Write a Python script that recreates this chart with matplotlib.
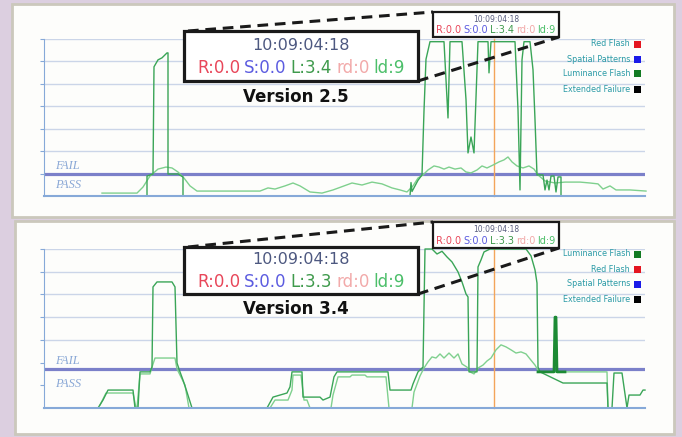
import numpy as np
import matplotlib
matplotlib.use('Agg')
import matplotlib.pyplot as plt
from matplotlib.patches import Rectangle
from matplotlib.lines import Line2D

W, H = 682, 437

# ---- Version 2.5 capture (frames, flash level) ----
top_hi_t = [103, 103, 109, 110, 114, 118, 123, 124, 124, 134, 139, 139,
            366, 367, 368, 374, 378, 380, 382, 386, 400, 404, 406, 418,
            422, 424, 427, 430, 434, 444, 445, 447, 471, 474, 476, 478,
            480, 486, 489, 491, 493, 499, 501, 503, 505, 507, 510, 512,
            514, 517, 517]
top_hi_v = [0, 0.89, 0.98, 5.76, 6.07, 6.16, 6.38, 6.38, 0.98, 0.98, 0.85, 0,
            0, 0.6, 0.2, 0.7, 0.94, 3.8, 6.1, 6.88, 6.88, 3.48, 6.88, 6.88,
            4.3, 1.92, 2.63, 1.92, 6.88, 6.88, 5.49, 6.88, 6.88, 3.84, 0.27, 6.07,
            6.88, 6.88, 5.63, 3.4, 0.94, 0.94, 0.27, 0.71, 0.27, 0.89, 0.89, 0.18,
            0.85, 0.85, 0]

top_lo_t = [58, 93, 99, 106, 114, 122, 128, 134, 140, 146, 153, 216, 224, 231,
            241, 249, 256, 266, 278, 289, 297, 308, 318, 328, 338, 348, 356, 363,
            369, 374, 379, 384, 390, 395, 400, 405, 411, 417, 422, 427, 433, 438,
            443, 449, 455, 460, 464, 468, 473, 479, 485, 490, 494, 501, 511, 521,
            536, 546, 554, 559, 566, 572, 586, 602]
top_lo_v = [0.13, 0.13, 0.4, 0.89, 1.2, 1.29, 1.25, 1.07, 0.8, 0.45, 0.22, 0.22, 0.36, 0.31,
            0.45, 0.58, 0.45, 0.18, 0.13, 0.27, 0.4, 0.58, 0.49, 0.62, 0.54, 0.36, 0.27, 0.18,
            0.45, 0.8, 0.94, 1.16, 1.34, 1.29, 1.2, 1.29, 1.2, 1.25, 1.07, 1.03, 1.16, 1.34,
            1.25, 1.38, 1.52, 1.61, 1.74, 1.52, 1.34, 1.25, 1.34, 1.2, 0.94, 0.67, 0.58, 0.62,
            0.62, 0.58, 0.54, 0.31, 0.45, 0.27, 0.27, 0.22]

# ---- Version 3.4 capture ----
bot_hi_t = [54, 59, 64, 89, 91, 94, 96, 106, 108, 109, 113, 128, 131, 133, 136, 139,
            143, 148, 223, 229, 243, 246, 248, 258, 259, 276, 279, 286, 290, 293,
            344, 346, 367, 369, 374, 379, 381, 388, 393, 398, 403, 408, 414, 418,
            422, 424, 425, 433, 434, 437, 440, 446, 482, 487, 491, 493, 494, 496,
            519, 563, 564, 568, 570, 578, 583, 585, 596, 599, 601]
bot_hi_v = [0, 0.35, 0.79, 0.79, 0, 0, 1.59, 1.59, 1.8, 5.33, 5.55, 5.55, 5.33, 1.98, 1.59, 1.23,
            0.7, 0, 0, 0.48, 0.66, 0.93, 1.59, 1.59, 0.48, 0.48, 0.35, 0.48, 1.37, 1.59,
            1.59, 0.79, 0.79, 1.06, 1.59, 1.8, 7.0, 7.0, 6.78, 6.9, 6.65, 6.43, 5.99, 5.55,
            5.02, 4.89, 1.59, 1.59, 6.21, 6.52, 6.87, 7.0, 7.0, 6.7, 6.08, 5.5, 1.8, 1.59,
            1.1, 1.1, 0, 0, 1.54, 1.54, 0, 0.57, 0.57, 0.79, 0.79]

bot_lo_t = [56, 62, 89, 92, 93, 96, 106, 108, 111, 131, 133, 136, 141, 145, 226, 231,
            244, 248, 249, 257, 260, 263, 266, 287, 289, 294, 306, 308, 321, 323, 342,
            345, 368, 370, 376, 380, 384, 388, 392, 396, 400, 405, 410, 414, 418, 423,
            426, 430, 434, 439, 443, 447, 452, 457, 462, 467, 472, 477, 482, 486, 491,
            495, 519, 563, 564]
bot_lo_v = [0.13, 0.66, 0.66, 0, 0, 1.5, 1.5, 1.8, 2.2, 2.2, 1.72, 1.45, 1.01, 0, 0, 0.35,
            0.35, 0.79, 1.45, 1.45, 0.35, 0.35, 0, 0, 0.57, 1.37, 1.37, 1.45, 1.45, 1.37, 1.37,
            0, 0, 0.7, 1.41, 1.76, 2.03, 2.25, 2.2, 2.38, 2.2, 2.42, 2.2, 2.38, 1.94, 1.8,
            1.59, 1.5, 1.76, 1.89, 2.07, 2.2, 2.56, 2.78, 2.69, 2.56, 2.42, 2.47, 2.38, 2.16, 1.89,
            1.59, 1.59, 1.59, 0]

bot_ext_t = [494, 510, 511, 512, 513, 521]
bot_ext_v = [1.59, 1.59, 4.0, 4.0, 1.59, 1.59]

cursor_frame = 450
fail_level = [1.0, 1.72]
grid_levels = [[1, 2, 3, 4, 5, 6, 7], [3, 4, 5, 6, 7]]
tick_levels = [1, 2, 3, 4, 5, 6, 7]

versions = ['Version 2.5', 'Version 3.4']
timecode = '10:09:04:18'
readouts = [['R:0.0', 'S:0.0', 'L:3.4', 'rd:0', 'ld:9'],
            ['R:0.0', 'S:0.0', 'L:3.3', 'rd:0', 'ld:9']]
readout_colors = ['#e8475a', '#5c5ce0', '#3f9a4c', '#f2aaaa', '#4cbf6a']

legend_names = [['Red Flash', 'Spatial Patterns', 'Luminance Flash', 'Extended Failure'],
                ['Luminance Flash', 'Red Flash', 'Spatial Patterns', 'Extended Failure']]
legend_colors = [['#e41520', '#1a1ae8', '#127a22', '#000000'],
                 ['#127a22', '#e41520', '#1a1ae8', '#000000']]

hi_col = '#3aa557'
lo_col = '#7fd08e'
axis_col = '#86a9d8'
grid_col = '#cbd5e8'


def fx(x):
    return x / W


def fy(y):
    return 1 - y / H


fig = plt.figure(figsize=(W / 100, H / 100), dpi=100)
fig.patch.set_facecolor('#dccfe0')

# panels (pixel boxes: x0, y0, x1, y1)
panels = [(12, 4, 674, 217), (15, 221, 674, 434)]
for x0, y0, x1, y1 in panels:
    fig.add_artist(Rectangle((fx(x0), fy(y1)), fx(x1 - x0), (y1 - y0) / H,
                             transform=fig.transFigure, facecolor='#fdfdfb',
                             edgecolor='#cbc8bc', lw=2, zorder=-5))

ax_boxes = [(44, 39, 645, 196), (44, 249, 645, 408)]
series = [((top_hi_t, top_hi_v), (top_lo_t, top_lo_v), None),
          ((bot_hi_t, bot_hi_v), (bot_lo_t, bot_lo_v), (bot_ext_t, bot_ext_v))]

r = fig.canvas.get_renderer()

for i, (x0, y0, x1, y1) in enumerate(ax_boxes):
    ax = fig.add_axes([fx(x0), fy(y1), (x1 - x0) / W, (y1 - y0) / H])
    ax.patch.set_visible(False)
    ax.set_xlim(0, 601)
    ax.set_ylim(0, 7)
    for lvl in grid_levels[i]:
        ax.axhline(lvl, color=grid_col, lw=1, zorder=0.5)
    ax.axhline(fail_level[i], color='#7b80c9', lw=2.3, zorder=1)
    ax.axvline(cursor_frame, color='#f3a55a', lw=1, zorder=1.5, clip_on=False)
    (ht, hv), (lt, lv), ext = series[i]
    ax.plot(lt, lv, color=lo_col, lw=1, zorder=2, clip_on=False)
    ax.plot(ht, hv, color=hi_col, lw=1, zorder=2.1, clip_on=False)
    if ext is not None:
        ax.plot(ext[0], ext[1], color='#1c8a34', lw=2, zorder=2.2)
    for s in ['top', 'right']:
        ax.spines[s].set_visible(False)
    ax.spines['left'].set_color(axis_col)
    ax.spines['bottom'].set_color(axis_col)
    ax.spines['bottom'].set_linewidth(1.5)
    ax.spines['left'].set_zorder(3)
    ax.spines['bottom'].set_zorder(3)
    ax.set_yticks(tick_levels)
    ax.set_xticks([])
    ax.tick_params(axis='y', length=3, color=axis_col, labelleft=False)

    # FAIL / PASS labels
    fail_y = y1 - fail_level[i] * (y1 - y0) / 7
    fig.text(fx(55), fy(fail_y - 8), 'FAIL', fontsize=9, style='italic',
             family='Liberation Serif', color='#8aa8d6', va='center')
    fig.text(fx(55), fy(y1 - 11 if i == 0 else y1 - 24), 'PASS', fontsize=9,
             style='italic', family='Liberation Serif', color='#8aa8d6', va='center')

# callouts
big = [(184, 31, 418, 81), (184, 247, 418, 294)]
small = [(433, 12, 559, 37), (433, 222, 559, 248)]
text_y = [(46, 68, 97, 19, 30), (260, 282, 309, 230, 241)]
legend_y = [[44, 59, 73, 89], [254, 269, 284, 299]]


def colored_line(cx, cy, parts, colors, size, gap):
    texts = [fig.text(0, fy(cy), s, color=c, fontsize=size, va='center', zorder=7)
             for s, c in zip(parts, colors)]
    widths = [t.get_window_extent(r).width for t in texts]
    x = cx - (sum(widths) + gap * (len(texts) - 1)) / 2
    for t, w in zip(texts, widths):
        t.set_x(fx(x))
        x += w + gap


for i in range(2):
    bx0, by0, bx1, by1 = big[i]
    sx0, sy0, sx1, sy1 = small[i]
    for (a0, b0, a1, b1), lw in [((bx0, by0, bx1, by1), 2.3), ((sx0, sy0, sx1, sy1), 1.6)]:
        fig.add_artist(Rectangle((fx(a0), fy(b1)), fx(a1 - a0), (b1 - b0) / H,
                                 transform=fig.transFigure, facecolor='white',
                                 edgecolor='#1a1a1a', lw=lw, zorder=5))
    for (p0, p1) in [((bx0 + 4, by0), (sx0, sy0)), ((bx1, by1), (sx1, sy1))]:
        fig.add_artist(Line2D([fx(p0[0]), fx(p1[0])], [fy(p0[1]), fy(p1[1])],
                              transform=fig.transFigure, color='#1a1a1a', lw=2.2,
                              linestyle=(0, (3.5, 2.2)), zorder=6))
    t1, t2, tv, s1, s2 = text_y[i]
    cx = (bx0 + bx1) / 2
    fig.text(fx(cx), fy(t1), timecode, fontsize=11.5, color='#4d5880',
             ha='center', va='center', zorder=7)
    colored_line(cx, t2, readouts[i], readout_colors, 12, 4)
    fig.text(fx(cx - 5), fy(tv), versions[i], fontsize=12, fontweight='bold',
             color='#111111', ha='center', va='center', zorder=7)
    scx = (sx0 + sx1) / 2
    fig.text(fx(scx), fy(s1), timecode, fontsize=5.5, color='#5a5f80',
             ha='center', va='center', zorder=7)
    colored_line(scx, s2, readouts[i], readout_colors, 7.0, 2)

    for name, col, ly in zip(legend_names[i], legend_colors[i], legend_y[i]):
        fig.text(fx(630), fy(ly), name, fontsize=5.8, color='#2a9aa6',
                 ha='right', va='center', zorder=7)
        fig.add_artist(Rectangle((fx(634), fy(ly + 3.5)), fx(7), 7 / H,
                                 transform=fig.transFigure, facecolor=col,
                                 edgecolor='none', zorder=7))

fig.savefig('out.png', dpi=100, facecolor=fig.get_facecolor())
